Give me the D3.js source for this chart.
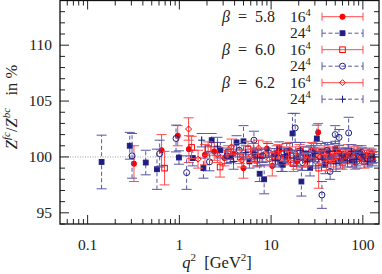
<!DOCTYPE html>
<html>
<head>
<style>
  body { margin: 0; background: #fff; }
  text { font-family: "Liberation Serif", "DejaVu Serif", serif; fill: #222; }
</style>
</head>
<body>
<div id="chart"></div>
<script src="https://cdn.jsdelivr.net/npm/d3@7"></script>
<script>

// [q^2, Z ratio in %, error]
var b58_16 = [[0.32,99.4,1.6],[0.64,100.6,1.4],[0.96,101.9,0.9],[1.27,100.7,1.2],[1.9,100.2,0.9],[2.4,100.5,0.8],[3.1,99.9,0.7],[3.9,100.3,0.7],[5.0,99.0,0.9],[6.4,100.5,0.7],[7.8,100.1,0.6],[9.0,100.75,0.6],[10.3,99.2,0.9],[11.5,100.4,0.6],[14.2,100.0,0.6],[16,100.6,0.7],[19,99.6,0.7],[22.5,100.3,0.6],[26,99.8,0.6],[29,100.5,0.7],[32.6,102.2,0.8],[37,99.9,0.6],[42,100.2,0.6],[48,99.6,0.7],[55,100.4,0.6],[63,99.9,0.5],[72,100.1,0.6],[82,99.5,0.6],[95,100.3,0.5],[108,99.8,0.5],[122,100.1,0.5]];
var b58_24 = [[0.142,99.55,2.4],[0.288,101.0,1.2],[0.43,99.5,1.1],[0.57,98.9,1.8],[0.99,99.95,0.6],[1.40,99.9,0.7],[1.83,99.0,0.9],[2.25,101.5,0.6],[2.8,100.6,0.7],[3.6,100.0,0.5],[4.2,101.3,0.6],[5.0,101.4,1.4],[5.8,99.6,0.6],[6.7,100.2,0.6],[7.5,98.5,0.7],[8.4,98.0,1.3],[10.8,100.25,0.5],[12.3,100.75,0.6],[12.9,99.4,0.7],[13.4,99.3,0.6],[15.2,100.1,0.6],[17.1,102.1,1.8],[19.5,99.9,0.7],[21.4,97.8,1.3],[24,100.3,0.6],[26.6,99.0,0.7],[28.5,100.0,0.8],[31.5,101.65,1.2],[35,100.5,0.7],[39,99.3,0.8],[44,100.0,0.6],[50,100.7,0.7],[57,99.6,0.6],[66,100.2,0.6],[76,99.7,0.6],[88,100.4,0.6],[101,99.9,0.5],[115,100.0,0.6],[128,99.7,0.5]];
var b60_16 = [[0.69,99.0,1.5],[1.36,100.85,1.0],[2.06,100.75,0.6],[2.78,99.1,0.9],[3.4,100.4,0.6],[4.6,100.0,0.6],[5.6,100.7,0.7],[7.0,99.7,0.6],[8.8,100.2,0.6],[11,99.9,0.6],[13.8,100.3,0.6],[17.5,99.4,0.7],[20.5,100.5,0.6],[24.5,99.8,0.6],[29.5,100.2,0.6],[33,99.0,1.8],[38,100.4,0.6],[45,99.7,0.6],[52,100.1,0.6],[60,99.5,0.6],[69,100.5,0.6],[79,99.9,0.5],[91,100.2,0.5],[104,99.6,0.6],[118,100.3,0.5]];
var b60_24 = [[0.305,100.1,2.0],[0.61,100.3,1.2],[0.92,101.65,1.2],[1.2,98.6,1.5],[2.13,99.56,0.8],[3.3,100.1,0.7],[4.5,100.6,0.6],[6.5,101.5,0.8],[8.1,100.1,0.6],[11.8,99.9,0.6],[14.8,100.5,0.7],[18.3,102.6,1.3],[22,99.5,0.7],[27,100.4,0.6],[30.5,99.7,0.7],[35.8,96.6,1.2],[41,100.6,0.7],[44,98.7,0.7],[50,102.0,0.8],[55,101.75,0.7],[61,100.2,0.6],[70,102.15,1.4],[78,100.0,0.6],[86,99.6,0.6],[97,100.4,0.6],[112,99.8,0.5],[125,100.2,0.5]];
var b62_16 = [[1.26,102.5,1.0],[1.6,99.8,0.8],[2.6,100.2,0.7],[3.7,100.9,0.7],[4.8,99.7,0.6],[6.1,100.1,0.6],[7.3,100.8,0.7],[9.6,99.8,0.6],[12,100.5,0.6],[15.5,99.9,0.6],[18.5,100.3,0.6],[23,99.7,0.6],[27.5,100.6,0.7],[34,100.0,0.6],[40,99.5,0.7],[47,100.3,0.6],[58,99.8,0.6],[67,100.0,0.6],[80,100.4,0.5],[93,99.9,0.5],[110,100.1,0.5],[126,99.9,0.5]];
var b62_24 = [[1.75,101.5,0.6],[2.6,100.96,0.8],[3.9,99.6,0.7],[5.3,100.4,0.6],[7.1,99.9,0.7],[9.3,100.6,0.6],[11.2,99.7,0.6],[14,100.2,0.6],[17.8,99.9,0.7],[21,100.6,0.7],[25,99.6,0.8],[30,100.3,0.7],[36,99.8,0.7],[43,100.5,0.6],[51,99.4,0.7],[59,100.1,0.6],[68,99.7,0.6],[75,100.5,0.6],[85,99.8,0.6],[98,100.2,0.6],[113,99.6,0.5],[130,100.0,0.5]];

var betas = ["5.8", "6.0", "6.2"];
var xTicks = [0.1, 1, 10, 100];
var yTicks = [95, 100, 105, 110];

var red = "#ff0000", redBar = "#ff4a4a";
var blue = "#1e1e82", blueBar = "#5656aa";

var series = [
	{data: b58_16, sym: "circle", fill: true, col: red, bar: redBar, dash: null, beta: betas[0], vol: "16"},
	{data: b58_24, sym: "square", fill: true, col: blue, bar: blueBar, dash: "4,2.5", beta: null, vol: "24"},
	{data: b60_16, sym: "square", fill: false, col: red, bar: redBar, dash: null, beta: betas[1], vol: "16"},
	{data: b60_24, sym: "circle", fill: false, col: blue, bar: blueBar, dash: "4,2.5", beta: null, vol: "24"},
	{data: b62_16, sym: "diamond", fill: false, col: red, bar: redBar, dash: null, beta: betas[2], vol: "16"},
	{data: b62_24, sym: "cross", fill: false, col: blue, bar: blueBar, dash: "4,2.5", beta: null, vol: "24"}
];

var W = 382, H = 274,
	pL = 60, pR = 379, pT = 0.5, pB = 224;

var svg = d3.select("#chart").append("svg")
	.attr("width", W).attr("height", H);

var x = d3.scaleLog().domain([0.05, 150]).range([pL, pR]);
var y = d3.scaleLinear().domain([94, 114]).range([pB, pT]);

// reference line at 100
svg.append("line")
	.attr("x1", pL).attr("x2", pR)
	.attr("y1", y(100)).attr("y2", y(100))
	.attr("stroke", "#888").attr("stroke-width", 0.8)
	.attr("stroke-dasharray", "1,1.5");

var plot = svg.append("g");

function drawMarker(g, s, cx, cy) {
	if (s.sym == "circle") {
		g.append("circle").attr("cx", cx).attr("cy", cy).attr("r", s.fill ? 2.6 : 3)
			.attr("fill", s.fill ? s.col : "none").attr("stroke", s.col).attr("stroke-width", 1);
	} else if (s.sym == "square") {
		var h = s.fill ? 2.4 : 2.8;
		g.append("rect").attr("x", cx - h).attr("y", cy - h).attr("width", 2 * h).attr("height", 2 * h)
			.attr("fill", s.fill ? s.col : "none").attr("stroke", s.col).attr("stroke-width", 1);
	} else if (s.sym == "diamond") {
		g.append("path").attr("d", "M" + cx + "," + (cy - 3) + "L" + (cx + 3) + "," + cy + "L" + cx + "," + (cy + 3) + "L" + (cx - 3) + "," + cy + "Z")
			.attr("fill", "none").attr("stroke", s.col).attr("stroke-width", 1);
	} else {
		g.append("path").attr("d", "M" + (cx - 3.5) + "," + cy + "H" + (cx + 3.5) + "M" + cx + "," + (cy - 3.5) + "V" + (cy + 3.5))
			.attr("fill", "none").attr("stroke", s.col).attr("stroke-width", 1);
	}
}

series.forEach(function(s) {
	s.data.forEach(function(d) {
		var cx = x(d[0]), y0 = y(d[1] - d[2]), y1 = y(d[1] + d[2]);
		var g = plot.append("g");
		g.append("line").attr("x1", cx).attr("x2", cx).attr("y1", y0).attr("y2", y1)
			.attr("stroke", s.bar).attr("stroke-width", 1).attr("stroke-dasharray", s.dash);
		[y0, y1].forEach(function(yy) {
			g.append("line").attr("x1", cx - 5).attr("x2", cx + 5).attr("y1", yy).attr("y2", yy)
				.attr("stroke", s.bar).attr("stroke-width", 1);
		});
		drawMarker(g, s, cx, y(d[1]));
	});
});

// frame and ticks (mirrored, inward)
var ax = svg.append("g");
var xMinor = [];
[0.01, 0.1, 1, 10, 100].forEach(function(dec) {
	for (var k = 2; k <= 9; k++) {
		var v = dec * k;
		if (v > 0.05 && v < 150) xMinor.push(v);
	}
});
var yMinor = d3.range(94, 115).filter(function(v) { return v % 5 != 0; });

function tickLines(vals, len) {
	vals.forEach(function(v) {
		var px = x(v);
		ax.append("line").attr("x1", px).attr("x2", px).attr("y1", pB).attr("y2", pB - len);
		ax.append("line").attr("x1", px).attr("x2", px).attr("y1", pT).attr("y2", pT + len);
	});
}
function tickLinesY(vals, len) {
	vals.forEach(function(v) {
		var py = y(v);
		ax.append("line").attr("y1", py).attr("y2", py).attr("x1", pL).attr("x2", pL + len);
		ax.append("line").attr("y1", py).attr("y2", py).attr("x1", pR).attr("x2", pR - len);
	});
}
tickLines(xTicks, 9);
tickLines(xMinor, 5);
tickLinesY(yTicks, 9);
tickLinesY(yMinor, 5);
ax.selectAll("line").attr("stroke", "#222").attr("stroke-width", 1);

ax.append("rect").attr("x", pL).attr("y", pT).attr("width", pR - pL).attr("height", pB - pT)
	.attr("fill", "none").attr("stroke", "#111").attr("stroke-width", 1.3);

// tick labels
svg.selectAll(".xl").data(xTicks).enter().append("text")
	.attr("x", function(d) { return x(d); }).attr("y", 250)
	.attr("text-anchor", "middle").attr("font-size", 15.5)
	.text(function(d) { return d; });
svg.selectAll(".yl").data(yTicks).enter().append("text")
	.attr("x", pL - 8).attr("y", function(d) { return y(d) + 5; })
	.attr("text-anchor", "end").attr("font-size", 15.5)
	.text(function(d) { return d; });

// axis titles
var xt = svg.append("text").attr("x", 217).attr("y", 268).attr("text-anchor", "middle").attr("font-size", 16.5);
xt.append("tspan").attr("font-style", "italic").text("q");
xt.append("tspan").attr("font-size", 11).attr("dy", -7).text("2");
xt.append("tspan").attr("dy", 7).text("\u00a0\u00a0[GeV");
xt.append("tspan").attr("font-size", 11).attr("dy", -7).text("2");
xt.append("tspan").attr("dy", 7).text("]");

var yt = svg.append("text").attr("transform", "translate(17,107) rotate(-90)")
	.attr("text-anchor", "middle").attr("font-size", 16.5);
yt.append("tspan").attr("font-style", "italic").text("Z");
yt.append("tspan").attr("font-style", "italic").attr("font-size", 11).attr("dy", -7).text("fc");
yt.append("tspan").attr("dy", 7).text("/");
yt.append("tspan").attr("font-style", "italic").text("Z");
yt.append("tspan").attr("font-style", "italic").attr("font-size", 11).attr("dy", -7).text("bc");
yt.append("tspan").attr("dy", 7).text("\u00a0\u00a0\u00a0in %");

// legend
var lg = svg.append("g");
series.forEach(function(s, i) {
	var ly = 16.7 + i * 16.5;
	if (s.beta) {
		var bt = lg.append("text").attr("x", 275).attr("y", ly + 5).attr("text-anchor", "end").attr("font-size", 16);
		bt.append("tspan").attr("font-style", "italic").text("\u03b2");
		bt.append("tspan").text("\u2002=\u2002" + s.beta);
	}
	var vt = lg.append("text").attr("x", 290).attr("y", ly + 5).attr("font-size", 15.5);
	vt.append("tspan").text(s.vol);
	vt.append("tspan").attr("font-size", 10.5).attr("dy", -6).text("4");
	lg.append("line").attr("x1", 322).attr("x2", 363).attr("y1", ly).attr("y2", ly)
		.attr("stroke", s.bar).attr("stroke-width", 1).attr("stroke-dasharray", s.dash);
	[322, 363].forEach(function(px) {
		lg.append("line").attr("x1", px).attr("x2", px).attr("y1", ly - 4).attr("y2", ly + 4)
			.attr("stroke", s.bar).attr("stroke-width", 1);
	});
	drawMarker(lg, s, 342.5, ly);
});
</script>
</body>
</html>
